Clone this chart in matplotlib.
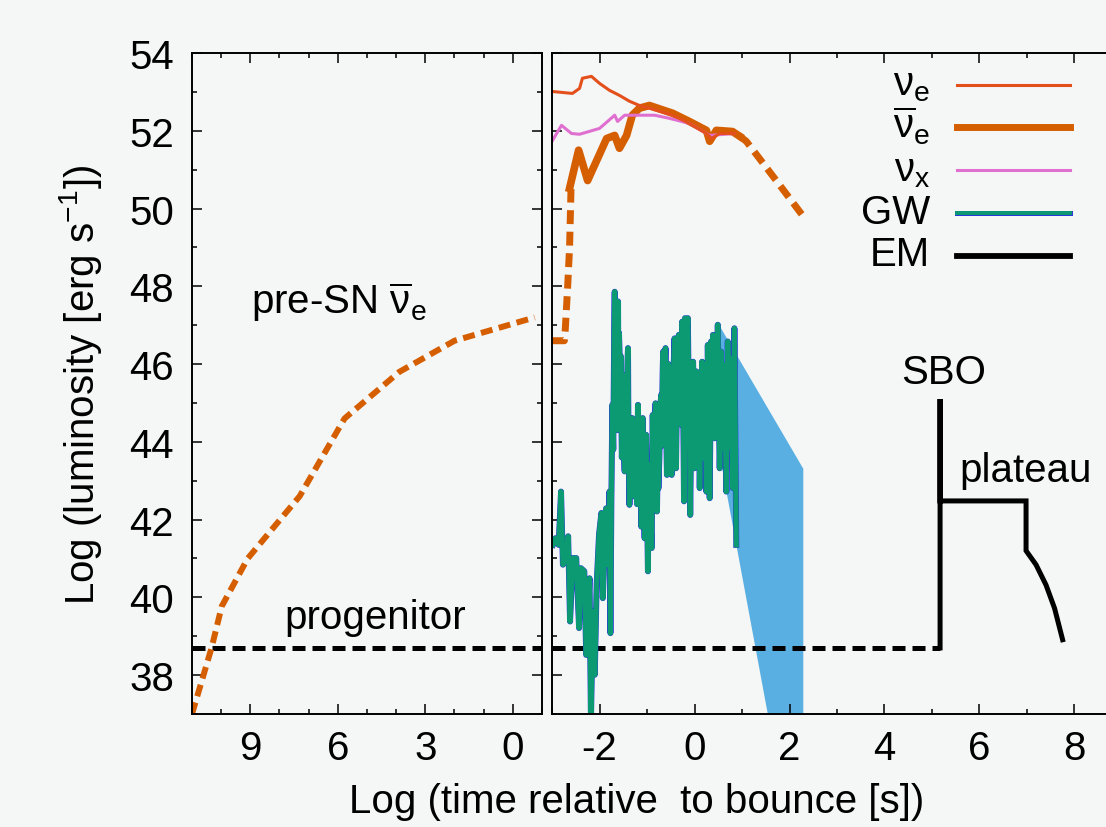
import matplotlib.pyplot as plt
from matplotlib.lines import Line2D
from matplotlib.ticker import MultipleLocator

plt.rcParams["font.family"] = ["Liberation Sans", "DejaVu Sans"]
plt.rcParams["mathtext.fontset"] = "custom"
plt.rcParams["mathtext.rm"] = "Liberation Sans"
plt.rcParams["mathtext.it"] = "Liberation Sans"
plt.rcParams["mathtext.bf"] = "Liberation Sans:bold"
plt.rcParams["axes.unicode_minus"] = False

BG = "#f5f6f6"
C_NUE = "#e3501c"
C_NUEBAR = "#d55e00"
C_NUX = "#e070d0"
C_GW = "#0b9a72"
C_GW_EDGE = "#2a3ad8"
C_BAND = "#5aafe2"

# left panel: pre-SN anti-nu_e, x = log(time before bounce)
presn_x = [11.0, 10.33, 9.98, 9.09, 7.31, 5.77, 3.89, 2.0, -0.75]
presn_y = [37.0, 38.7, 39.77, 41.0, 42.6, 44.6, 45.8, 46.6, 47.2]

PROGENITOR = 38.7

# right panel, x = log(time after bounce)
nue_x = [-2.99, -2.57, -2.42, -2.36, -2.17, -2.0, -1.79, -1.58, -1.37, -1.16,
         -0.95, -0.46, -0.11, 0.25, 0.36, 0.53, 0.84]
nue_y = [53.01, 52.96, 53.09, 53.35, 53.40, 53.22, 53.04, 52.91, 52.76, 52.65,
         52.58, 52.40, 52.19, 51.93, 51.80, 51.93, 51.93]

nuebar_pre_x = [-3.0, -2.74, -2.72, -2.67, -2.63, -2.6]
nuebar_pre_y = [46.6, 46.6, 46.9, 48.0, 49.0, 50.5]
nuebar_x = [-2.63, -2.44, -2.25, -1.85, -1.68, -1.58, -1.43, -1.31, -1.16, -0.95,
            -0.46, -0.11, 0.25, 0.32, 0.46, 0.80, 0.95]
nuebar_y = [50.52, 51.50, 50.72, 51.80, 51.88, 51.55, 51.88, 52.40, 52.58, 52.65,
            52.45, 52.24, 52.01, 51.73, 52.01, 51.98, 51.86]
nuebar_post_x = [0.95, 1.09, 1.64, 2.27]
nuebar_post_y = [51.86, 51.73, 50.85, 49.83]

nux_x = [-2.99, -2.8, -2.59, -2.42, -2.0, -1.68, -1.62, -1.47, -1.16, -0.84,
         -0.53, -0.11, 0.32, 0.84]
nux_y = [51.75, 52.14, 51.93, 51.91, 52.06, 52.40, 52.24, 52.40, 52.40, 52.40,
         52.32, 52.19, 51.88, 51.93]

gw_x = [-2.98, -2.93, -2.86, -2.81, -2.77, -2.70, -2.66, -2.62, -2.56, -2.49,
        -2.43, -2.39, -2.32, -2.28, -2.21, -2.18, -2.14, -2.10, -2.06, -2.01,
        -1.96, -1.93, -1.86, -1.82, -1.79,
        -1.77, -1.75, -1.73, -1.71, -1.69, -1.68, -1.67, -1.66, -1.65, -1.64,
        -1.63, -1.61, -1.60, -1.59, -1.58, -1.56, -1.55, -1.53, -1.51, -1.50,
        -1.49, -1.47, -1.46, -1.44, -1.43, -1.41, -1.40, -1.39, -1.37, -1.35,
        -1.33, -1.31, -1.29, -1.28, -1.26, -1.25, -1.23, -1.21, -1.19, -1.18,
        -1.16, -1.14, -1.12, -1.10, -1.09, -1.07, -1.05, -1.04, -1.02, -1.00,
        -0.98, -0.97, -0.95, -0.93, -0.90, -0.89, -0.88, -0.86, -0.84, -0.82,
        -0.80, -0.79, -0.77, -0.76, -0.74, -0.72, -0.70, -0.69, -0.67, -0.66,
        -0.64, -0.62, -0.61, -0.60, -0.58, -0.56, -0.55, -0.53, -0.51, -0.49,
        -0.48, -0.46, -0.44, -0.42, -0.41, -0.39, -0.37, -0.35, -0.33, -0.31,
        -0.29, -0.28, -0.27, -0.26, -0.24, -0.22, -0.21, -0.20, -0.18, -0.16,
        -0.14, -0.12, -0.10, -0.09, -0.07, -0.05, -0.03, -0.01, 0.00, 0.02,
        0.04, 0.06, 0.08, 0.09, 0.11, 0.13, 0.15, 0.16, 0.18, 0.21,
        0.23, 0.25, 0.27, 0.28, 0.30, 0.32, 0.34, 0.35, 0.37, 0.39,
        0.41, 0.42, 0.44, 0.46, 0.48, 0.49, 0.51, 0.53, 0.55, 0.56,
        0.58, 0.60, 0.62, 0.63, 0.65, 0.67, 0.69, 0.70, 0.72, 0.74,
        0.76, 0.77, 0.79, 0.81, 0.83, 0.84, 0.86, 0.88]
gw_y = [41.35, 41.52, 41.35, 42.72, 40.84, 41.09, 41.57, 39.38, 41.01, 41.01,
        39.21, 40.75, 40.67, 38.52, 40.49, 36.8, 39.64, 38.01, 40.32, 41.61,
        42.17, 39.98, 42.29, 40.84, 42.72,
        39.08, 42.5, 44.95, 43.8, 46.9, 47.86, 45.5, 47.6, 45.04, 46.2,
        44.3, 47.61, 45.0, 46.8, 46.41, 44.9, 46.2, 43.6, 44.09, 45.3,
        43.9, 43.24, 45.1, 45.72, 44.2, 46.1, 46.41, 44.0, 42.38, 44.3,
        43.1, 44.61, 43.4, 42.6, 42.89, 44.1, 43.41, 42.4, 44.95, 43.3,
        42.38, 43.9, 41.82, 43.2, 44.61, 42.9, 41.52, 43.6, 44.18, 42.5,
        40.67, 42.9, 43.41, 42.1, 41.27, 43.5, 44.69, 43.0, 44.2, 44.99,
        43.1, 42.21, 43.9, 42.8, 43.58, 44.9, 45.21, 43.9, 45.8, 46.32,
        44.7, 45.9, 46.41, 44.6, 43.15, 44.8, 46.0, 45.55, 44.1, 45.2,
        43.15, 44.5, 45.9, 46.66, 44.8, 43.32, 45.1, 46.2, 46.75, 45.0,
        46.3, 44.44, 45.8, 47.09, 45.2, 42.47, 44.9, 47.18, 45.5, 46.6,
        47.18, 45.1, 43.6, 42.12, 44.5, 45.2, 46.06, 44.8, 43.32, 44.9,
        45.81, 44.3, 43.7, 45.64, 42.81, 44.8, 45.3, 46.06, 44.6, 43.58,
        45.0, 42.72, 44.6, 46.49, 44.9, 42.55, 45.2, 46.58, 45.0, 46.75,
        45.3, 44.09, 45.6, 45.29, 45.9, 47.01, 45.1, 43.32, 44.5, 46.32,
        44.8, 43.84, 45.2, 45.98, 44.2, 42.72, 44.9, 46.58, 45.1, 46.15,
        44.7, 43.84, 44.5, 42.81, 45.0, 46.92, 44.0, 41.35]

band_x = [0.53, 2.28]
band_hi = [46.97, 43.32]
band_lo = [43.6, 32.1]

em_x = [5.17, 5.17, 5.17, 6.98, 6.98, 7.19, 7.40, 7.58, 7.75]
em_y = [38.7, 45.1, 42.48, 42.48, 41.2, 40.84, 40.32, 39.72, 38.91]

W, H = 1106, 828
fig = plt.figure(figsize=(W / 100, H / 100), dpi=100, facecolor=BG)
ax1 = fig.add_axes([192 / W, 1 - 715 / H, 350 / W, 661 / H], facecolor=BG)
ax2 = fig.add_axes([552 / W, 1 - 715 / H, 570 / W, 661 / H], facecolor=BG)

FS = 29

for ax in (ax1, ax2):
    ax.set_ylim(37, 54)
    ax.yaxis.set_major_locator(MultipleLocator(2))
    ax.yaxis.set_minor_locator(MultipleLocator(1))
    ax.tick_params(which="both", direction="in", top=True, right=True,
                   width=1.1, labelsize=FS)
    ax.tick_params(which="major", length=7.5)
    ax.tick_params(which="minor", length=3.8)
    ax.tick_params(axis="x", pad=11)
    ax.tick_params(axis="y", pad=13)
    for s in ax.spines.values():
        s.set_linewidth(1.4)

ax1.set_xlim(11, -1)
ax1.xaxis.set_major_locator(MultipleLocator(3))
ax1.xaxis.set_minor_locator(MultipleLocator(1))
ax2.set_xlim(-3, 9)
ax2.xaxis.set_major_locator(MultipleLocator(2))
ax2.xaxis.set_minor_locator(MultipleLocator(1))
ax2.tick_params(labelleft=False)

# left panel
ax1.axhline(PROGENITOR, color="black", lw=3.6, dashes=(2.6, 1.4))
ax1.plot(presn_x, presn_y, color=C_NUEBAR, lw=4.3, dashes=(2.0, 1.1))
ax1.text(5.97, 47.31, r"pre-SN $\overline{\nu}_{\rm e}$", fontsize=FS,
         ha="center", va="baseline")
ax1.text(4.72, 39.21, "progenitor", fontsize=FS, ha="center", va="baseline")

# right panel
ax2.fill_between(band_x, band_lo, band_hi, color=C_BAND, lw=0)
ax2.plot([-3, em_x[0]], [PROGENITOR, PROGENITOR], color="black", lw=3.6,
         dashes=(2.6, 1.4))
ax2.plot(em_x, em_y, color="black", lw=3.6, solid_joinstyle="miter")
ax2.plot(nuebar_pre_x, nuebar_pre_y, color=C_NUEBAR, lw=5, dashes=(2.0, 1.1))
ax2.plot(nuebar_post_x, nuebar_post_y, color=C_NUEBAR, lw=5, dashes=(2.0, 1.1))
ax2.plot(nuebar_x, nuebar_y, color=C_NUEBAR, lw=5.5)
ax2.plot(nux_x, nux_y, color=C_NUX, lw=2.2)
ax2.plot(nue_x, nue_y, color=C_NUE, lw=2.2)
ax2.plot(gw_x, gw_y, color=C_GW_EDGE, lw=4.3)
ax2.plot(gw_x, gw_y, color=C_GW, lw=3.7)

ax2.text(5.24, 45.5, "SBO", fontsize=FS, ha="center", va="baseline")
ax2.text(6.96, 42.98, "plateau", fontsize=FS, ha="center", va="baseline")

# legend (gnuplot style: label left of the sample line)
legend_items = [
    (r"$\nu_{\rm e}$", [(C_NUE, 2.2)]),
    (r"$\overline{\nu}_{\rm e}$", [(C_NUEBAR, 5.0)]),
    (r"$\nu_{\rm x}$", [(C_NUX, 2.2)]),
    ("GW", [(C_GW_EDGE, 3.6), (C_GW, 2.8)]),
    ("EM", [("black", 4.2)]),
]
for i, (label, styles) in enumerate(legend_items):
    yl = 1 - (85.7 + 42.7 * i) / H
    fig.text(930 / W, yl - 10 / H, label, fontsize=FS, ha="right", va="baseline")
    for color, lw in styles:
        fig.add_artist(Line2D([957 / W, 1070 / W], [yl, yl], color=color, lw=lw,
                              transform=fig.transFigure))

ax1.set_ylabel(r"Log (luminosity [erg s$^{-1}$])", fontsize=FS, labelpad=18)
fig.text(637 / W, 1 - 802 / H, "Log (time relative  to bounce [s])",
         fontsize=FS, ha="center", va="center")

fig.savefig("out.png", dpi=100, facecolor=BG)
